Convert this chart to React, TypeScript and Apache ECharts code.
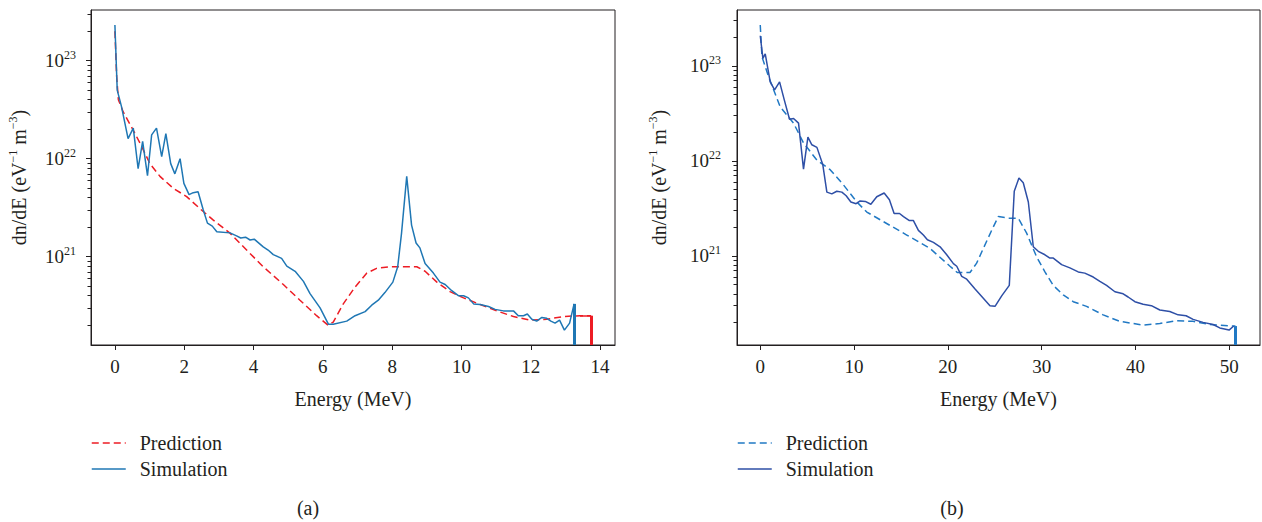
import React, { useEffect, useRef } from 'react';
import * as echarts from 'echarts';

const FONT = 'Liberation Serif';
const INK = '#231f20';

// ---- tick labels / axis ranges ----
const xTicksA = [0, 2, 4, 6, 8, 10, 12, 14];
const xTicksB = [0, 10, 20, 30, 40, 50];
const yTickExps = [21, 22, 23];
const minorMultipliers = [2, 3, 4, 5, 6, 7, 8, 9];
const minorDecades = [20, 21, 22, 23];
const xRangeA = [-0.69, 14.43];
const xRangeB = [-2.48, 53.28];
const yLogRangeA = [20.099, 23.517];
const yLogRangeB = [20.063, 23.589];

// ---- panel (a): Prediction ----
const predAEnergy = [0, 0.05, 0.1, 0.24, 0.48, 0.72, 1.01, 1.3, 1.68, 2.07, 2.45, 2.84, 3.32, 3.8, 4.28, 4.86, 5.34, 5.82, 6.15, 6.3, 6.59, 6.93, 7.27, 7.55, 7.94, 8.71, 8.95, 9.29, 9.67, 10.06, 10.54, 11.02, 11.5, 11.98, 12.46, 12.94, 13.42, 13.74];
const predAValue = [2.0e23, 6.9e22, 4.0e22, 3.0e22, 2.1e22, 1.45e22, 8.9e21, 6.6e21, 5.0e21, 4.1e21, 3.1e21, 2.36e21, 1.74e21, 1.17e21, 7.9e20, 5.2e20, 3.6e20, 2.5e20, 2.0e20, 2.15e20, 3.3e20, 4.9e20, 6.8e20, 7.6e20, 7.9e20, 7.9e20, 7.1e20, 5.5e20, 4.4e20, 3.8e20, 3.25e20, 2.8e20, 2.45e20, 2.25e20, 2.3e20, 2.45e20, 2.5e20, 2.5e20];

// ---- panel (a): Simulation ----
const simAEnergy = [0, 0.067, 0.19, 0.38, 0.53, 0.67, 0.8, 0.94, 1.06, 1.2, 1.35, 1.47, 1.61, 1.73, 1.88, 1.99, 2.14, 2.26, 2.4, 2.55, 2.67, 2.81, 2.94, 3.32, 3.51, 3.63, 3.77, 3.9, 4.02, 4.28, 4.42, 4.57, 4.81, 4.96, 5.2, 5.44, 5.63, 5.92, 6.16, 6.3, 6.69, 6.93, 7.22, 7.41, 7.6, 7.79, 8.02, 8.16, 8.27, 8.42, 8.56, 8.69, 8.8, 8.95, 9.19, 9.38, 9.53, 9.72, 9.91, 10.06, 10.2, 10.35, 10.54, 10.78, 10.97, 11.21, 11.5, 11.64, 11.79, 11.9, 12.03, 12.17, 12.32, 12.46, 12.58, 12.7, 12.83, 12.97, 13.12, 13.25];
const simAValue = [2.31e23, 5.0e22, 3.4e22, 1.6e22, 2.05e22, 7.9e21, 1.5e22, 6.7e21, 1.75e22, 2.05e22, 1.05e22, 1.8e22, 8.9e21, 7.0e21, 1.0e22, 5.6e21, 4.3e21, 4.5e21, 4.6e21, 3.0e21, 2.2e21, 2.05e21, 1.8e21, 1.75e21, 1.63e21, 1.55e21, 1.58e21, 1.48e21, 1.51e21, 1.26e21, 1.17e21, 1.05e21, 9.6e20, 8.0e20, 7.1e20, 5.6e20, 4.2e20, 3.0e20, 2.05e20, 2.05e20, 2.2e20, 2.5e20, 2.75e20, 3.2e20, 3.6e20, 4.3e20, 5.5e20, 7.9e20, 1.73e21, 6.6e21, 2.1e21, 1.38e21, 1.23e21, 8.5e20, 6.8e20, 5.5e20, 5.2e20, 4.5e20, 4.0e20, 4.0e20, 3.8e20, 3.3e20, 3.25e20, 3.1e20, 2.9e20, 2.8e20, 2.8e20, 2.5e20, 2.5e20, 2.6e20, 2.3e20, 2.2e20, 2.4e20, 2.35e20, 2.2e20, 2.1e20, 2.25e20, 1.78e20, 2.1e20, 3.3e20];

// ---- panel (b): Prediction ----
const predBEnergy = [0, 0.18, 0.89, 2.13, 3.55, 4.61, 6.04, 7.45, 8.87, 10.3, 11.36, 13.13, 15.62, 18.1, 20.23, 21.0, 22.36, 23.07, 23.78, 24.67, 25.38, 26.44, 27.51, 28.4, 29.46, 30.35, 31.24, 32.3, 33.37, 34.79, 36.56, 38.34, 40.82, 42.6, 44.38, 46.15, 47.92, 50.41, 50.66];
const predBValue = [2.7e23, 1.25e23, 7.7e22, 3.7e22, 2.5e22, 1.55e22, 1.02e22, 8.1e21, 5.6e21, 3.7e21, 2.9e21, 2.3e21, 1.66e21, 1.2e21, 7.8e20, 6.7e20, 6.7e20, 8.4e20, 1.2e21, 1.86e21, 2.6e21, 2.5e21, 2.5e21, 1.74e21, 9.8e20, 6.8e20, 4.9e20, 3.9e20, 3.3e20, 2.95e20, 2.4e20, 2.05e20, 1.87e20, 1.95e20, 2.08e20, 2.05e20, 1.9e20, 1.83e20, 1.83e20];

// ---- panel (b): Simulation ----
const simBEnergy = [0, 0.28, 0.53, 1.06, 1.53, 2.06, 2.56, 3.12, 3.55, 4.08, 4.61, 5.08, 5.5, 6.04, 6.67, 7.1, 7.63, 8.16, 8.7, 9.16, 9.66, 10.22, 10.65, 11.2, 11.79, 12.42, 13.21, 13.77, 14.27, 14.85, 15.27, 15.9, 16.33, 16.86, 17.39, 17.82, 18.46, 19.17, 19.88, 20.59, 20.95, 21.48, 22.01, 22.9, 23.78, 24.49, 25.03, 25.74, 26.55, 27.08, 27.58, 28.04, 28.58, 29.11, 29.64, 30.35, 30.88, 31.24, 32.13, 33.01, 33.9, 34.6, 35.5, 36.21, 36.92, 37.81, 38.69, 39.22, 39.94, 40.82, 41.7, 42.6, 43.66, 44.55, 45.4, 46.15, 47.21, 48.28, 48.99, 49.98, 50.48];
const simBValue = [2.08e23, 1.2e23, 1.34e23, 6.8e22, 5.6e22, 6.8e22, 4.4e22, 2.75e22, 2.8e22, 2.5e22, 8.2e21, 1.78e22, 1.48e22, 1.39e22, 9.1e21, 4.7e21, 4.5e21, 4.8e21, 4.7e21, 4.3e21, 3.7e21, 3.55e21, 3.8e21, 3.75e21, 3.5e21, 4.2e21, 4.6e21, 3.9e21, 2.8e21, 2.8e21, 2.6e21, 2.36e21, 2.36e21, 1.86e21, 1.66e21, 1.48e21, 1.39e21, 1.25e21, 1.03e21, 8.3e20, 7.8e20, 6.1e20, 5.7e20, 4.5e20, 3.6e20, 3.0e20, 2.95e20, 3.8e20, 4.9e20, 4.8e21, 6.6e21, 5.9e21, 3.7e21, 1.25e21, 1.12e21, 1.03e21, 9.5e20, 9.5e20, 8.1e20, 7.5e20, 6.8e20, 6.6e20, 6.0e20, 5.4e20, 4.9e20, 4.2e20, 4.0e20, 3.7e20, 3.3e20, 3.1e20, 3.0e20, 2.7e20, 2.6e20, 2.4e20, 2.35e20, 2.15e20, 2.0e20, 1.9e20, 1.75e20, 1.66e20, 1.83e20];

const RED = '#ed1c24';
const BLUE_A = '#1f77b4';
const BLUE_PRED_B = '#2179c4';
const BLUE_SIM_B = '#2e4fa6';

const toPoints = (E: number[], V: number[]) => E.map((e, i) => [e, Math.log10(V[i])]);

// vertical drop from the last data point to the bottom of the axis (spectrum cut-off)
const dropLine = (E: number[], V: number[], yMin: number, color: string, withCap = false) => {
  const n = E.length - 1;
  const data: any[] = [[
    { coord: [E[n], Math.log10(V[n])] },
    { coord: [E[n], yMin] },
  ]];
  if (withCap) {
    data.push([
      { coord: [E[n - 1], Math.log10(V[n - 1])], lineStyle: { width: 1.5 } },
      { coord: [E[n], Math.log10(V[n])] },
    ]);
  }
  return {
    silent: true,
    symbol: 'none',
    label: { show: false },
    emphasis: { disabled: true },
    lineStyle: { type: 'solid', width: 3, color },
    data,
  };
};

const minorLogs = (range: number[]) => {
  const out: number[] = [];
  minorDecades.forEach((d) => minorMultipliers.forEach((m) => {
    const v = d + Math.log10(m);
    if (v > range[0] && v < range[1]) out.push(v);
  }));
  return out;
};

const yName = '{a|dn/dE (eV}{s|−1}{a| m}{s|−3}{a|)}';

const xAxisCfg = (gridIndex: number, range: number[], ticks: number[]) => ({
  type: 'value',
  gridIndex,
  min: range[0],
  max: range[1],
  name: 'Energy (MeV)',
  nameLocation: 'middle',
  nameGap: 44,
  nameTextStyle: { fontFamily: FONT, fontSize: 20, color: INK },
  axisLine: { show: true, onZero: false, lineStyle: { color: INK, width: 1 } },
  axisTick: { show: true, length: 5, customValues: ticks, lineStyle: { color: INK, width: 1 } },
  axisLabel: { show: true, customValues: ticks, margin: 12, fontFamily: FONT, fontSize: 19, color: INK },
  splitLine: { show: false },
});

const yAxisMain = (gridIndex: number, range: number[], nameGap: number, margin: number) => ({
  type: 'value',
  gridIndex,
  min: range[0],
  max: range[1],
  position: 'left',
  name: yName,
  nameLocation: 'middle',
  nameGap,
  nameRotate: 90,
  nameTextStyle: {
    fontFamily: FONT,
    rich: {
      a: { fontFamily: FONT, fontSize: 20, color: INK, lineHeight: 24, verticalAlign: 'middle' },
      s: { fontFamily: FONT, fontSize: 12, color: INK, verticalAlign: 'top', lineHeight: 12 },
    },
  },
  axisLine: { show: true, onZero: false, lineStyle: { color: INK, width: 1 } },
  axisTick: { show: true, length: 5, customValues: yTickExps, lineStyle: { color: INK, width: 1 } },
  axisLabel: {
    show: true,
    customValues: yTickExps,
    margin,
    fontFamily: FONT,
    formatter: (v: number) => `{b|10}{s|${Math.round(v)}}`,
    rich: {
      b: { fontFamily: FONT, fontSize: 19, color: INK, lineHeight: 24, verticalAlign: 'middle' },
      s: { fontFamily: FONT, fontSize: 12, color: INK, verticalAlign: 'top', lineHeight: 12 },
    },
  },
  splitLine: { show: false },
});

const yAxisMinor = (gridIndex: number, range: number[]) => ({
  type: 'value',
  gridIndex,
  min: range[0],
  max: range[1],
  position: 'left',
  axisLine: { show: false, onZero: false },
  axisLabel: { show: false },
  splitLine: { show: false },
  axisTick: { show: true, length: 3.5, customValues: minorLogs(range), lineStyle: { color: INK, width: 1 } },
});

const legendCfg = (left: number, names: string[]) => ({
  orient: 'vertical',
  left,
  top: 433,
  padding: 0,
  itemWidth: 34,
  itemHeight: 14,
  itemGap: 6,
  itemStyle: { opacity: 0 },
  lineStyle: { width: 1.5 },
  selectedMode: false,
  data: names,
  formatter: (n: string) => n.replace(/ \(b\)$/, ''),
  textStyle: { fontFamily: FONT, fontSize: 20, color: INK, padding: [0, 0, 0, 9] },
});

export default function App() {
  const ref = useRef<HTMLDivElement>(null);
  useEffect(() => {
    document.body.style.margin = '0';
    if (!ref.current) return;
    const chart = echarts.init(ref.current, undefined, { renderer: 'svg' });
    const option = {
      animation: false,
      backgroundColor: '#ffffff',
      textStyle: { fontFamily: FONT },
      grid: [
        { left: 91, top: 10, width: 524, height: 335, show: true, borderColor: INK, borderWidth: 1, containLabel: false },
        { left: 737, top: 10, width: 523, height: 335, show: true, borderColor: INK, borderWidth: 1, containLabel: false },
      ],
      xAxis: [xAxisCfg(0, xRangeA, xTicksA), xAxisCfg(1, xRangeB, xTicksB)],
      yAxis: [
        yAxisMain(0, yLogRangeA, 60, 15),
        yAxisMinor(0, yLogRangeA),
        yAxisMain(1, yLogRangeB, 66, 16),
        yAxisMinor(1, yLogRangeB),
      ],
      legend: [
        legendCfg(91, ['Prediction', 'Simulation']),
        legendCfg(737, ['Prediction (b)', 'Simulation (b)']),
      ],
      graphic: [
        { type: 'text', x: 308, y: 508, style: { text: '(a)', fontFamily: FONT, fontSize: 20, fill: INK, align: 'center', verticalAlign: 'middle' } },
        { type: 'text', x: 952, y: 508, style: { text: '(b)', fontFamily: FONT, fontSize: 20, fill: INK, align: 'center', verticalAlign: 'middle' } },
      ],
      series: [
        {
          name: 'Prediction', type: 'line', xAxisIndex: 0, yAxisIndex: 0,
          data: toPoints(predAEnergy, predAValue), showSymbol: false, symbol: 'none',
          lineStyle: { color: RED, width: 1.5, type: [7, 4] }, itemStyle: { color: RED },
          markLine: dropLine(predAEnergy, predAValue, yLogRangeA[0], RED, true),
        },
        {
          name: 'Simulation', type: 'line', xAxisIndex: 0, yAxisIndex: 0,
          data: toPoints(simAEnergy, simAValue), showSymbol: false, symbol: 'none',
          lineStyle: { color: BLUE_A, width: 1.5 }, itemStyle: { color: BLUE_A },
          markLine: dropLine(simAEnergy, simAValue, yLogRangeA[0], BLUE_A),
        },
        {
          name: 'Prediction (b)', type: 'line', xAxisIndex: 1, yAxisIndex: 2,
          data: toPoints(predBEnergy, predBValue), showSymbol: false, symbol: 'none',
          lineStyle: { color: BLUE_PRED_B, width: 1.5, type: [7, 4] }, itemStyle: { color: BLUE_PRED_B },
          markLine: dropLine(predBEnergy, predBValue, yLogRangeB[0], BLUE_PRED_B),
        },
        {
          name: 'Simulation (b)', type: 'line', xAxisIndex: 1, yAxisIndex: 2,
          data: toPoints(simBEnergy, simBValue), showSymbol: false, symbol: 'none',
          lineStyle: { color: BLUE_SIM_B, width: 1.5 }, itemStyle: { color: BLUE_SIM_B },
        },
      ],
    };
    chart.setOption(option as any);
    return () => chart.dispose();
  }, []);
  return <div ref={ref} style={{ width: 1262, height: 522 }} />;
}
